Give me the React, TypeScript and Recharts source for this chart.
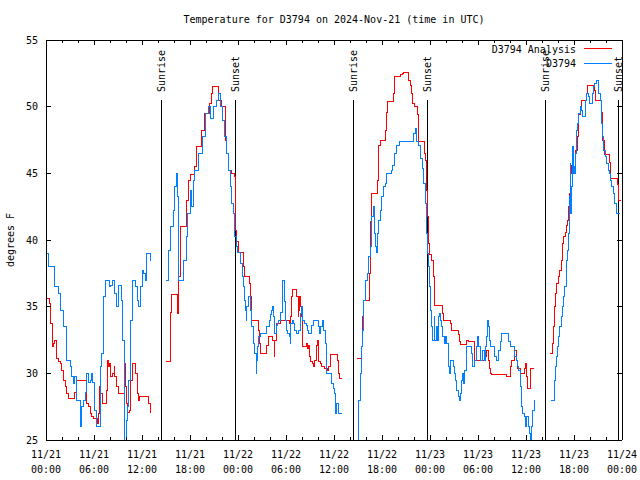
import React from 'react';
import { LineChart, Line, XAxis, YAxis, ReferenceLine } from 'recharts';

// hours since 2024-11-21 00:00 UTC, temperature in degrees F
const obsDay1: [number, number][] = [
  [0, 38.4], [0.1, 39], [0.3, 38], [1.1, 36.5], [1.5, 36], [1.8, 34.75], [2.2, 33.5], [2.6, 31],
  [3.0, 30.5], [3.2, 29.75], [3.4, 29.25], [3.6, 29.75], [3.8, 28], [4.1, 28], [4.25, 26], [4.4, 27.5],
  [4.7, 28], [4.9, 28.6], [5.1, 30], [5.3, 29.3], [5.5, 29.5], [5.7, 30], [5.85, 29.3], [6.0, 27.25],
  [6.25, 26], [6.75, 30.5], [6.9, 31.5], [7.2, 35.75], [7.4, 37], [7.8, 37], [7.9, 36.5], [8.1, 36.6],
  [8.3, 37], [8.5, 36.5], [8.6, 36], [8.8, 35], [9.0, 36.6], [9.25, 36.6], [9.4, 35.5], [9.6, 32.5],
  [9.75, 29.5], [9.85, 25], [10.0, 26.5], [10.2, 27.5], [10.3, 29.5], [10.5, 34], [10.8, 37], [11.0, 37],
  [11.2, 36.5], [11.4, 35.5], [11.5, 35], [11.75, 36.5], [12.0, 37.75], [12.2, 37.5], [12.4, 37],
  [12.6, 39], [12.8, 39], [13.0, 38.5], [13.1, 38.5],
];

const obsDay2: [number, number][] = [
  [15.05, 37], [15.3, 39.25], [15.6, 41], [15.9, 42.25], [16.1, 44], [16.25, 45], [16.4, 43.25],
  [16.5, 37.75], [16.6, 37], [17.1, 37], [17.2, 38.5], [17.5, 40.25], [17.7, 42], [18.0, 43.75],
  [18.2, 42.5], [18.4, 44.5], [18.6, 45.25], [19.0, 46.5], [19.5, 47.75], [19.9, 49.5], [20.3, 50],
  [20.5, 49.1], [20.9, 50], [21.3, 50.5], [21.6, 51], [21.8, 50], [22.1, 49], [22.3, 47.75], [22.6, 46.5],
  [22.8, 45.25], [23.0, 44], [23.2, 42.75], [23.4, 42], [23.6, 40.25], [23.75, 39.5], [23.9, 39.1],
  [24.3, 38.25], [24.5, 37.25], [24.67, 36.5], [24.8, 35.5], [24.9, 34.75], [25.0, 34], [25.1, 35],
  [25.3, 35.75], [25.6, 34.75], [25.7, 33.5], [25.9, 32.25], [26.1, 31.5], [26.25, 30], [26.35, 31],
  [26.45, 32], [26.6, 32.75], [26.8, 33], [27.6, 33.5], [27.9, 34], [28.0, 34.4], [28.2, 34.75],
  [28.3, 35], [28.4, 34.25], [28.5, 33.25], [28.6, 33], [28.75, 33.6], [28.9, 33.75], [29.1, 34],
  [29.3, 34.6], [29.5, 36.25], [29.6, 37], [29.75, 35.4], [29.9, 34], [30.0, 33.25], [30.2, 33],
  [30.4, 32.75], [30.5, 32.25], [30.6, 33.75], [30.75, 34], [30.9, 33.75], [31.1, 33.25], [31.3, 33],
  [31.5, 33.25], [31.75, 34.5], [31.96, 35], [32.1, 34], [32.25, 33.75], [32.5, 33.6], [32.7, 33.25],
  [32.85, 33], [33.2, 33.6], [33.4, 34], [34.0, 33.5], [34.15, 33], [34.3, 33.5], [34.5, 34],
  [34.7, 33.25], [34.9, 32.25], [35.0, 30], [35.7, 29.25], [35.9, 28.9], [36.0, 28.5], [36.2, 27],
  [36.3, 27.75], [36.5, 27.25], [36.6, 27], [37.0, 27],
];

const obsDay3: [number, number][] = [
  [38.9, 25], [39.0, 26.5], [39.1, 28], [39.25, 30], [39.4, 32], [39.5, 33.25], [39.65, 35.5],
  [39.9, 36.25], [39.95, 37], [40.2, 37.5], [40.35, 38.75], [40.5, 39.5], [40.7, 41.75], [40.9, 42.5],
  [41.0, 40.5], [41.2, 39.5], [41.33, 39.1], [41.46, 40.5], [41.5, 41.5], [41.75, 42.25], [41.96, 43.25],
  [42.2, 44], [42.4, 44.25], [42.6, 45], [43.2, 45.25], [43.3, 45.6], [43.5, 46], [43.6, 46.5],
  [43.8, 47.1], [44.2, 47.4], [45.9, 48], [46.2, 48.4], [46.3, 47.4], [46.5, 47.1], [46.75, 46.1],
  [47.0, 45.4], [47.2, 44.25], [47.4, 42.75], [47.5, 41.25], [47.6, 40.5], [47.7, 39], [47.8, 38],
  [47.9, 36.5], [48.0, 35], [48.1, 34.75], [48.2, 33.5], [48.3, 32.5], [48.5, 34.25], [48.6, 32.5],
  [48.75, 33.5], [48.9, 32.5], [49.0, 34.25], [49.2, 34.5], [49.3, 34], [49.45, 33.5], [49.6, 32.75],
  [49.75, 32.25], [49.9, 32.75], [50.1, 32.25], [50.3, 30.5], [50.4, 30], [50.6, 31], [50.9, 30.5],
  [51.0, 30], [51.2, 29.5], [51.3, 28.75], [51.5, 28.25], [51.7, 28], [51.75, 28.5], [51.9, 29.5],
  [52.0, 30], [52.2, 29.25], [52.3, 30.25], [52.5, 31.25], [52.6, 32], [53.2, 31.5], [53.3, 30.5],
  [53.5, 31], [53.75, 32], [53.9, 32.75], [54.0, 32], [54.25, 31], [54.6, 31.75], [54.75, 31],
  [54.9, 32], [55.0, 32.75], [55.2, 34], [55.3, 33.5], [55.4, 32.5], [55.6, 32], [56.1, 31.25],
  [56.25, 31], [56.5, 31.75], [56.75, 32.4], [56.95, 33], [57.8, 32.4], [58.0, 32], [58.6, 31.25],
  [58.8, 31], [58.9, 30.5], [59.1, 30.25], [59.25, 29], [59.4, 27.5], [59.6, 27], [59.8, 26.75],
  [59.9, 26], [60.1, 26.75], [60.3, 26], [60.4, 25.5], [60.6, 25], [60.7, 26], [60.8, 27.25], [61.0, 28],
];

const obsDay4: [number, number][] = [
  [63.1, 28], [63.5, 29.5], [63.7, 30.5], [63.8, 31.25], [63.9, 32], [64.1, 32.75], [64.2, 33.5],
  [64.4, 34.25], [64.5, 35], [64.7, 35.75], [64.8, 36.5], [65.0, 37.5], [65.1, 38.5], [65.2, 39.25],
  [65.3, 40.5], [65.4, 43.25], [65.5, 45.75], [65.6, 42], [65.7, 44], [65.8, 47], [65.9, 45], [66.0, 45.5],
  [66.1, 45], [66.2, 46.5], [66.3, 48.25], [66.4, 48.75], [66.6, 49.5], [66.75, 50], [66.9, 49.75],
  [67.0, 49.25], [67.4, 50.5], [67.5, 51], [67.75, 50.75], [67.9, 50.25], [68.3, 51], [68.4, 51.5],
  [68.6, 51.75], [68.8, 52], [69.0, 51], [69.25, 50.5], [69.4, 48.75], [69.5, 47.75], [69.7, 46.75],
  [69.9, 46.25], [70.1, 45.75], [70.25, 45.25], [70.4, 45], [70.5, 44.5], [70.7, 44], [70.9, 43.5],
  [71.1, 42.75], [71.25, 42], [71.8, 42],
];

const anaDay1: [number, number][] = [
  [0, 35.6], [0.4, 35.25], [0.6, 33.75], [0.75, 32], [0.9, 32.25], [1.1, 32.5], [1.25, 31.1],
  [1.55, 30.9], [1.75, 30.75], [1.95, 30.25], [2.2, 29.5], [2.4, 29], [2.6, 28.5], [2.8, 28.1],
  [3.6, 28.6], [3.75, 29.5], [4.9, 29.5], [5.0, 27.75], [5.3, 27.5], [5.5, 27], [5.7, 26.75],
  [5.9, 26.6], [6.4, 26.25], [6.55, 27], [6.7, 29], [6.85, 28.5], [7.0, 27.75], [7.5, 27.9],
  [7.6, 28.75], [7.7, 31], [7.8, 30.5], [7.9, 30.75], [8.1, 29.75], [8.35, 30], [8.5, 30.5],
  [8.6, 29.75], [8.8, 29], [9.0, 28.5], [9.55, 28.5], [9.75, 30.75], [9.9, 29], [10.0, 27.75],
  [10.2, 27.1], [10.4, 27.25], [10.6, 29.5], [10.8, 30.75], [11.2, 30], [11.4, 28.5], [11.6, 28],
  [11.7, 28.25], [12.8, 27.75], [13.0, 27.1], [13.1, 27.1],
];

const anaDay2: [number, number][] = [
  [15.0, 30.9], [15.5, 32.1], [15.6, 34.6], [15.7, 35.9], [16.4, 34.5], [16.5, 37.3], [16.75, 41],
  [17.6, 43], [17.75, 44.5], [18.0, 44.9], [18.6, 45.5], [18.8, 47], [19.45, 48.25], [19.8, 49.5],
  [20.4, 50.25], [20.7, 51], [20.8, 51.5], [21.5, 50.5], [21.96, 50], [22.4, 47.5], [22.6, 46.5],
  [22.8, 45.25], [23.2, 45], [23.6, 44.75], [23.7, 40.75], [23.85, 39.9], [24.0, 39.1], [24.67, 38],
  [24.8, 37.25], [25.4, 36.75], [25.6, 35.75], [25.7, 34], [26.5, 33.25], [26.7, 32.25], [26.8, 31.5],
  [27.6, 32.1], [27.8, 32.8], [28.3, 32.5], [28.5, 31.25], [28.6, 32.5], [28.75, 33.75], [29.25, 34],
  [30.45, 33.75], [30.6, 34.25], [30.7, 35.75], [30.8, 36.3], [31.3, 35.75], [31.5, 34.25],
  [31.6, 34.75], [31.7, 35.75], [31.8, 35], [31.9, 34.25], [32.0, 33.25], [32.1, 32.05], [32.6, 32.25],
  [32.7, 31.9], [32.8, 32.1], [32.9, 31.25], [33.1, 30.9], [33.3, 30.75], [33.4, 30.5], [33.6, 31],
  [33.75, 32.1], [33.9, 32.5], [34.0, 31], [34.1, 30.9], [34.3, 30.75], [34.45, 30.5], [34.75, 30.4],
  [35.2, 30.25], [35.35, 30.5], [35.5, 31.4], [36.4, 31], [36.5, 30], [36.7, 29.6], [37.0, 29.6],
];

const anaDay3: [number, number][] = [
  [38.9, 31.1], [39.4, 32], [39.5, 34.25], [39.65, 35.5], [40.4, 37.5], [40.55, 41.4], [40.7, 43.5],
  [41.4, 44.5], [41.5, 46], [41.6, 47.1], [41.75, 47.5], [42.45, 48.25], [42.6, 49.6], [42.7, 50.4],
  [43.4, 51], [43.6, 52.25], [44.25, 52.4], [44.5, 52.5], [44.7, 52.6], [45.3, 52], [45.5, 51.6],
  [45.7, 51], [45.8, 50.25], [46.1, 50], [46.4, 49.4], [46.5, 47.4], [47.3, 46.5], [47.45, 46],
  [47.6, 43.75], [47.7, 41.75], [47.8, 39.75], [47.9, 38.9], [48.2, 38.5], [48.4, 37.25], [48.5, 36],
  [48.6, 35.1], [49.5, 34.5], [49.7, 34], [50.5, 33.75], [50.7, 33.25], [51.5, 32.9], [51.7, 32.4],
  [51.85, 32.2], [52.6, 32.5], [52.8, 32.4], [53.5, 31.5], [53.6, 31], [54.9, 31.25], [55.1, 31.75],
  [55.25, 31], [55.4, 30.4], [55.6, 30], [55.7, 29.9], [57.6, 29.75], [58.0, 30.5], [58.2, 31],
  [58.6, 31.75], [58.75, 31], [58.9, 30.4], [59.25, 30], [59.75, 30.4], [59.9, 30.75], [60.0, 29.75],
  [60.2, 28.9], [60.5, 30], [60.6, 30.4], [61.0, 30.4],
];

const anaDay4: [number, number][] = [
  [63.0, 31.5], [63.3, 32.25], [63.4, 33.5], [63.5, 35], [63.7, 36], [63.8, 36.75], [64.0, 37],
  [64.1, 37.25], [64.2, 37.75], [64.4, 38.5], [64.5, 39.75], [64.7, 40.25], [64.9, 40.6], [65.0, 41.1],
  [65.2, 41.5], [65.3, 42.5], [65.4, 43.5], [65.6, 45], [65.7, 45.6], [65.8, 45.4], [66.2, 46.75],
  [66.4, 47.75], [66.5, 48.5], [66.6, 49.4], [66.75, 50], [66.9, 50.5], [67.5, 51], [67.7, 51.6],
  [68.5, 51.2], [68.7, 50.5], [69.4, 49.6], [69.5, 47.5], [69.75, 46.4], [70.4, 45.8], [70.5, 44.6],
  [71.4, 44.2], [71.5, 43.5], [71.6, 43], [71.9, 43],
];

const sunEvents: [number, string][] = [
  [14.45, 'Sunrise'], [23.7, 'Sunset'], [38.42, 'Sunrise'],
  [47.68, 'Sunset'], [62.45, 'Sunrise'], [71.55, 'Sunset'],
];

const xTicks = Array.from({ length: 37 }, (_, i) => i * 2);
const yTicks = [25, 30, 35, 40, 45, 50, 55];

const FONT = '"DejaVu Sans Mono", "Liberation Mono", monospace';
const PLOT_W = 576;
const PLOT_H = 400;
const BLUE = '#0080ff';
const RED = '#ff0000';

// join day chunks, with a null row at each gap so the line breaks
function joinDays(days: [number, number][][]) {
  const rows: { t: number; v: number | null }[] = [];
  days.forEach((d, i) => {
    if (i > 0) rows.push({ t: (days[i - 1][days[i - 1].length - 1][0] + d[0][0]) / 2, v: null });
    d.forEach(([t, v]) => rows.push({ t, v }));
  });
  return rows;
}

const obsRows = joinDays([obsDay1, obsDay2, obsDay3, obsDay4]);
const anaRows = joinDays([anaDay1, anaDay2, anaDay3, anaDay4]);

function pad(n: number) {
  return n < 10 ? `0${n}` : `${n}`;
}

function TimeTick({ x, y, payload }: any) {
  const t = payload.value;
  const major = t % 6 === 0;
  const len = major ? 5 : 3;
  const day = 21 + Math.floor(t / 24);
  const hour = t % 24;
  return (
    <g>
      <line x1={x} y1={y} x2={x} y2={y - len} stroke="#000" shapeRendering="crispEdges" />
      <line x1={x} y1={y - PLOT_H} x2={x} y2={y - PLOT_H + len} stroke="#000" shapeRendering="crispEdges" />
      {major && (
        <text x={x} y={y + 14} textAnchor="middle" dominantBaseline="central" fontSize={10} fontFamily={FONT} fill="#000">
          <tspan x={x}>{`11/${day}`}</tspan>
          <tspan x={x} dy={15}>{`${pad(hour)}:00`}</tspan>
        </text>
      )}
    </g>
  );
}

function TempTick({ x, y, payload }: any) {
  return (
    <g>
      <line x1={x} y1={y} x2={x + 5} y2={y} stroke="#000" shapeRendering="crispEdges" />
      <line x1={x + PLOT_W} y1={y} x2={x + PLOT_W - 5} y2={y} stroke="#000" shapeRendering="crispEdges" />
      <text x={x - 8} y={y} textAnchor="end" dominantBaseline="central" fontSize={10} fontFamily={FONT} fill="#000">
        {payload.value}
      </text>
    </g>
  );
}

function sunShape(label: string) {
  return (p: any) => {
    const top = Math.min(p.y1, p.y2);
    const bottom = Math.max(p.y1, p.y2);
    const x = p.x1;
    return (
      <g>
        <line x1={x} y1={top + 60} x2={x} y2={bottom} stroke="#000" shapeRendering="crispEdges" />
        <text
          x={x}
          y={top + 52}
          transform={`rotate(-90 ${x} ${top + 52})`}
          textAnchor="start"
          dominantBaseline="central"
          fontSize={10}
          fontFamily={FONT}
          fill="#000"
        >
          {label}
        </text>
      </g>
    );
  };
}

export default function App() {
  return (
    <div style={{ position: 'absolute', left: 0, top: 0, width: 640, height: 480, background: '#fff' }}>
      <LineChart width={640} height={480} margin={{ top: 40, right: 18, bottom: 0, left: 0 }}>
        <XAxis
          dataKey="t"
          type="number"
          domain={[0, 72]}
          ticks={xTicks}
          interval={0}
          height={40}
          tickSize={0}
          tickMargin={0}
          tickLine={false}
          axisLine={{ stroke: '#000', shapeRendering: 'crispEdges' }}
          tick={(p: any) => <TimeTick {...p} />}
          allowDataOverflow
        />
        <YAxis
          type="number"
          domain={[25, 55]}
          ticks={yTicks}
          interval={0}
          width={46}
          tickSize={0}
          tickMargin={0}
          tickLine={false}
          axisLine={{ stroke: '#000', shapeRendering: 'crispEdges' }}
          tick={(p: any) => <TempTick {...p} />}
          allowDataOverflow
        />
        <ReferenceLine y={55} stroke="#000" shapeRendering="crispEdges" />
        <ReferenceLine x={72} stroke="#000" shapeRendering="crispEdges" />
        {sunEvents.map(([t, label], i) => (
          <ReferenceLine key={i} x={t} stroke="#000" shape={sunShape(label)} />
        ))}
        <Line
          data={anaRows}
          dataKey="v"
          type="stepAfter"
          stroke={RED}
          strokeWidth={1}
          shapeRendering="crispEdges"
          dot={false}
          activeDot={false}
          isAnimationActive={false}
        />
        <Line
          data={obsRows}
          dataKey="v"
          type="stepAfter"
          stroke={BLUE}
          strokeWidth={1}
          shapeRendering="crispEdges"
          dot={false}
          activeDot={false}
          isAnimationActive={false}
        />
      </LineChart>
      <svg width={640} height={480} style={{ position: 'absolute', left: 0, top: 0, pointerEvents: 'none' }}>
        <g fontFamily={FONT} fontSize={10} fill="#000">
          <text x={334} y={19} textAnchor="middle" dominantBaseline="central">
            Temperature for D3794 on 2024-Nov-21 (time in UTC)
          </text>
          <text x={10} y={240} transform="rotate(-90 10 240)" textAnchor="middle" dominantBaseline="central">
            degrees F
          </text>
          <text x={576} y={49} textAnchor="end" dominantBaseline="central">D3794 Analysis</text>
          <text x={576} y={63} textAnchor="end" dominantBaseline="central">D3794</text>
        </g>
        <line x1={584} y1={48} x2={612} y2={48} stroke={RED} shapeRendering="crispEdges" />
        <line x1={584} y1={63} x2={612} y2={63} stroke={BLUE} shapeRendering="crispEdges" />
      </svg>
    </div>
  );
}
